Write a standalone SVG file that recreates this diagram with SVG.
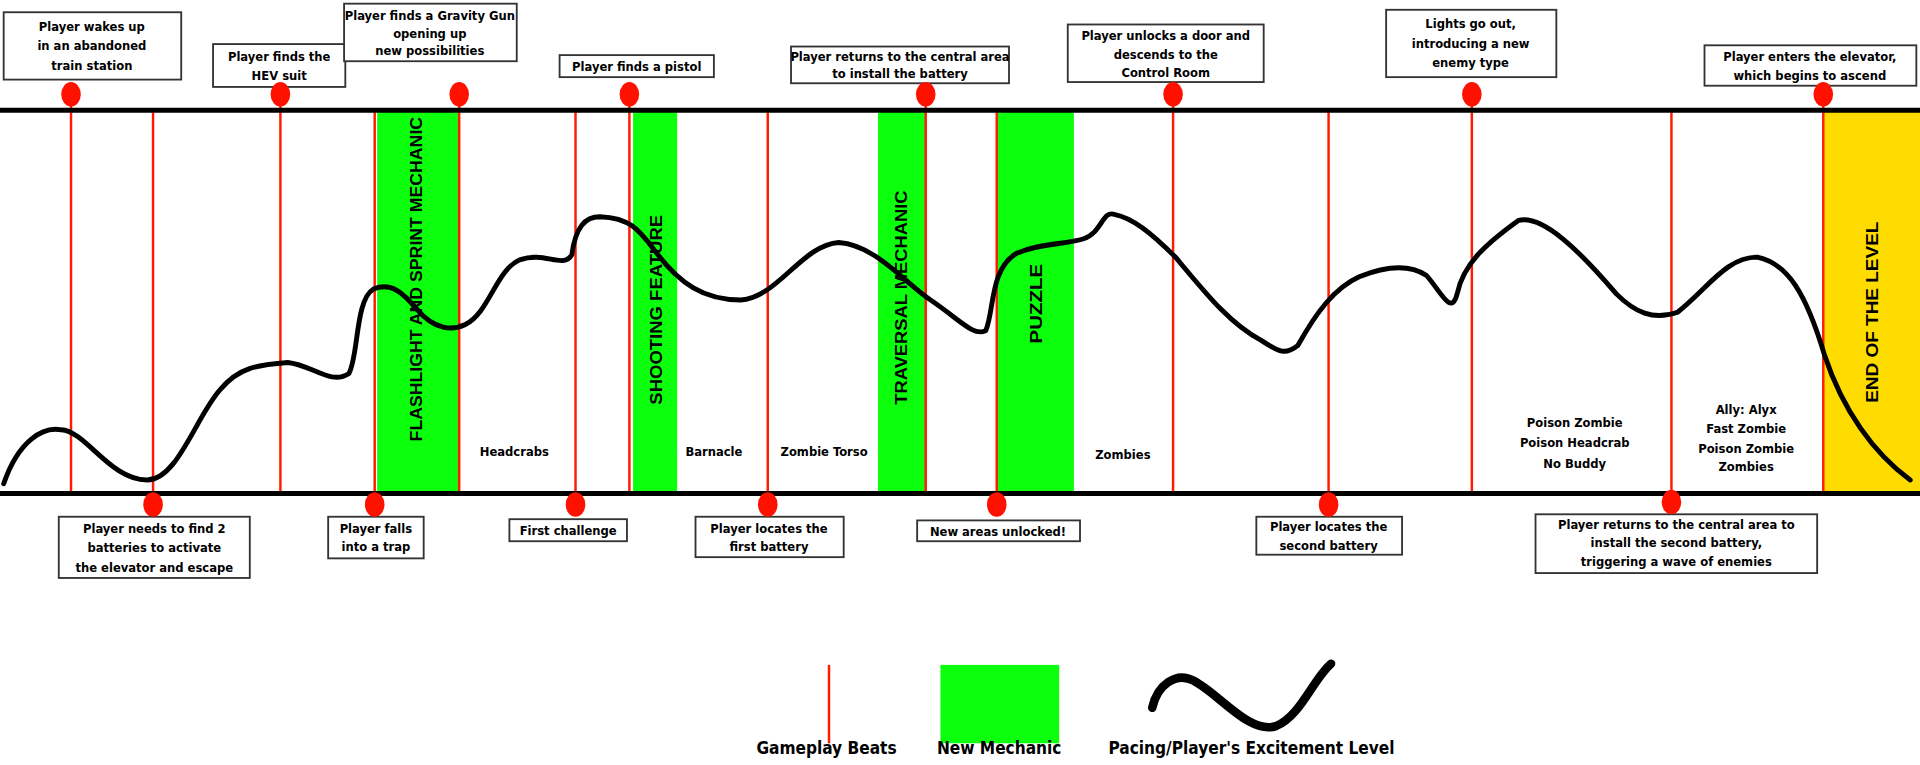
<svg xmlns="http://www.w3.org/2000/svg" width="1920" height="765" viewBox="0 0 1920 765">
<style>
.t{font-family:"DejaVu Sans Condensed","DejaVu Sans",sans-serif;font-weight:bold;font-size:10.5px;fill:#000;text-anchor:middle}
.box{fill:#fff;stroke:#333;stroke-width:1.5}
.beat{stroke:#ff1a00;stroke-width:2}
.dot{fill:#ff1100}
.axis{stroke:#000;stroke-width:4}
.green{fill:#0cff0c}
.rot{font-family:"Liberation Sans",Arial,sans-serif;font-weight:bold;font-size:14px;text-anchor:middle;fill:#000}
.curve{fill:none;stroke:#000;stroke-width:4;stroke-linejoin:round;stroke-linecap:round}
</style>
<rect width="1920" height="765" fill="#fff"/>
<g transform="scale(1.2245)">
<g id="bands">
<rect class="green" x="308" y="90" width="67" height="313"/>
<rect class="green" x="517" y="90" width="36" height="313"/>
<rect class="green" x="717" y="90" width="39" height="313"/>
<rect class="green" x="814" y="90" width="63" height="313"/>
<rect x="1489" y="90" width="79" height="313" fill="#ffdc00"/>
<text class="rot" transform="translate(345,228) rotate(-90)" textLength="265" lengthAdjust="spacingAndGlyphs">FLASHLIGHT AND SPRINT MECHANIC</text>
<text class="rot" transform="translate(541,253) rotate(-90)" textLength="155" lengthAdjust="spacingAndGlyphs">SHOOTING FEATURE</text>
<text class="rot" transform="translate(741,243) rotate(-90)" textLength="175" lengthAdjust="spacingAndGlyphs">TRAVERSAL MECHANIC</text>
<text class="rot" transform="translate(851,248) rotate(-90)" textLength="65" lengthAdjust="spacingAndGlyphs">PUZZLE</text>
<text class="rot" transform="translate(1534,255) rotate(-90)" textLength="148" lengthAdjust="spacingAndGlyphs">END OF THE LEVEL</text>
</g>
<g id="connectors">
<line class="beat" x1="58" y1="77" x2="58" y2="403"/>
<line class="beat" x1="125" y1="90" x2="125" y2="413"/>
<line class="beat" x1="229" y1="77" x2="229" y2="403"/>
<line class="beat" x1="306" y1="90" x2="306" y2="413"/>
<line class="beat" x1="375" y1="77" x2="375" y2="403"/>
<line class="beat" x1="470" y1="90" x2="470" y2="413"/>
<line class="beat" x1="514" y1="77" x2="514" y2="403"/>
<line class="beat" x1="627" y1="90" x2="627" y2="413"/>
<line class="beat" x1="756" y1="77" x2="756" y2="403"/>
<line class="beat" x1="814" y1="90" x2="814" y2="413"/>
<line class="beat" x1="958" y1="77" x2="958" y2="403"/>
<line class="beat" x1="1085" y1="90" x2="1085" y2="413"/>
<line class="beat" x1="1202" y1="77" x2="1202" y2="403"/>
<line class="beat" x1="1365" y1="90" x2="1365" y2="413"/>
<line class="beat" x1="1489" y1="77" x2="1489" y2="403"/>
<line class="axis" x1="0" y1="90" x2="1568" y2="90"/>
<line class="axis" x1="0" y1="403" x2="1568" y2="403"/>
<path class="curve" d="M3,395 C15,360 35,348 50,351 C70,352 90,392 120,392 C145,392 160,340 180,318 C195,300 210,298 235,296 C255,298 270,315 285,305 C293,290 290,245 305,236 C320,230 330,240 340,252 C355,270 370,270 380,265 C400,255 405,220 425,212 C445,205 460,220 467,208 C470,185 478,177 490,177 C515,178 522,188 535,205 C555,232 575,245 605,245 C635,243 655,200 685,198 C715,200 740,232 760,245 C785,262 795,275 805,270 C812,255 808,220 830,207 C850,198 870,200 885,195 C900,190 900,172 910,175 C925,178 940,190 960,210 C985,240 1005,265 1030,278 C1045,288 1050,290 1060,282 C1075,255 1090,235 1110,226 C1130,218 1150,215 1165,225 C1178,240 1185,258 1190,240 C1195,215 1215,198 1240,180 C1260,175 1290,205 1320,240 C1335,255 1350,262 1370,255 C1395,235 1410,210 1435,210 C1460,215 1475,240 1490,290 C1505,335 1530,370 1560,392"/>
</g>
<g id="n1"><rect class="box" x="3" y="10" width="145" height="55"/><text class="t" x="75" y="25">Player wakes up</text><text class="t" x="75" y="41">in an abandoned</text><text class="t" x="75" y="57">train station</text></g>
<g id="n2"><rect class="box" x="174" y="36" width="108" height="35"/><text class="t" x="228" y="50">Player finds the</text><text class="t" x="228" y="65">HEV suit</text></g>
<g id="n3"><rect class="box" x="281" y="3" width="141" height="47"/><text class="t" x="351" y="16">Player finds a Gravity Gun</text><text class="t" x="351" y="31">opening up</text><text class="t" x="351" y="45">new possibilities</text></g>
<g id="n4"><rect class="box" x="457" y="45" width="126" height="18"/><text class="t" x="520" y="58">Player finds a pistol</text></g>
<g id="n5"><rect class="box" x="646" y="38" width="178" height="30"/><text class="t" x="735" y="50">Player returns to the central area</text><text class="t" x="735" y="64">to install the battery</text></g>
<g id="n6"><rect class="box" x="872" y="20" width="160" height="47"/><text class="t" x="952" y="33">Player unlocks a door and</text><text class="t" x="952" y="48">descends to the</text><text class="t" x="952" y="63">Control Room</text></g>
<g id="n7"><rect class="box" x="1132" y="8" width="139" height="55"/><text class="t" x="1201" y="23">Lights go out,</text><text class="t" x="1201" y="39">introducing a new</text><text class="t" x="1201" y="55">enemy type</text></g>
<g id="n8"><rect class="box" x="1392" y="37" width="173" height="33"/><text class="t" x="1478" y="50">Player enters the elevator,</text><text class="t" x="1478" y="65">which begins to ascend</text></g>
<g id="b1"><rect class="box" x="48" y="422" width="156" height="50"/><text class="t" x="126" y="435">Player needs to find 2</text><text class="t" x="126" y="451">batteries to activate</text><text class="t" x="126" y="467">the elevator and escape</text></g>
<g id="b2"><rect class="box" x="268" y="422" width="78" height="34"/><text class="t" x="307" y="435">Player falls</text><text class="t" x="307" y="450">into a trap</text></g>
<g id="b3"><rect class="box" x="416" y="424" width="96" height="18"/><text class="t" x="464" y="437">First challenge</text></g>
<g id="b4"><rect class="box" x="568" y="422" width="121" height="33"/><text class="t" x="628" y="435">Player locates the</text><text class="t" x="628" y="450">first battery</text></g>
<g id="b5"><rect class="box" x="749" y="425" width="133" height="17"/><text class="t" x="815" y="438">New areas unlocked!</text></g>
<g id="b6"><rect class="box" x="1026" y="422" width="119" height="31"/><text class="t" x="1085" y="434">Player locates the</text><text class="t" x="1085" y="449">second battery</text></g>
<g id="b7"><rect class="box" x="1254" y="420" width="230" height="48"/><text class="t" x="1369" y="432">Player returns to the central area to</text><text class="t" x="1369" y="447">install the second battery,</text><text class="t" x="1369" y="462">triggering a wave of enemies</text></g>
<g id="dots" class="dot">
<ellipse cx="58" cy="77" rx="8" ry="10"/><ellipse cx="229" cy="77" rx="8" ry="10"/><ellipse cx="375" cy="77" rx="8" ry="10"/><ellipse cx="514" cy="77" rx="8" ry="10"/><ellipse cx="756" cy="77" rx="8" ry="10"/><ellipse cx="958" cy="77" rx="8" ry="10"/><ellipse cx="1202" cy="77" rx="8" ry="10"/><ellipse cx="1489" cy="77" rx="8" ry="10"/>
<ellipse cx="125" cy="412" rx="8" ry="10"/><ellipse cx="306" cy="412" rx="8" ry="10"/><ellipse cx="470" cy="412" rx="8" ry="10"/><ellipse cx="627" cy="412" rx="8" ry="10"/><ellipse cx="814" cy="412" rx="8" ry="10"/><ellipse cx="1085" cy="412" rx="8" ry="10"/><ellipse cx="1365" cy="410" rx="8" ry="10"/>
</g>
<g id="enemies">
<text class="t" x="420" y="372">Headcrabs</text>
<text class="t" x="583" y="372">Barnacle</text>
<text class="t" x="673" y="372">Zombie Torso</text>
<text class="t" x="917" y="375">Zombies</text>
<text class="t" x="1286" y="349">Poison Zombie</text><text class="t" x="1286" y="365">Poison Headcrab</text><text class="t" x="1286" y="382">No Buddy</text>
<text class="t" x="1426" y="338">Ally: Alyx</text><text class="t" x="1426" y="354">Fast Zombie</text><text class="t" x="1426" y="370">Poison Zombie</text><text class="t" x="1426" y="385">Zombies</text>
</g>
<g id="legend">
<line class="beat" x1="677" y1="543" x2="677" y2="607"/>
<rect class="green" x="768" y="543" width="97" height="64"/>
<path d="M941,578 C945,560 960,548 975,556 C995,566 1020,600 1042,593 C1062,585 1072,555 1087,542" fill="none" stroke="#000" stroke-width="7" stroke-linecap="round"/>
<text class="t" x="675" y="616" style="font-size:14px">Gameplay Beats</text>
<text class="t" x="816" y="616" style="font-size:14px">New Mechanic</text>
<text class="t" x="1022" y="616" style="font-size:14px">Pacing/Player's Excitement Level</text>
</g>
</g>
</svg>
